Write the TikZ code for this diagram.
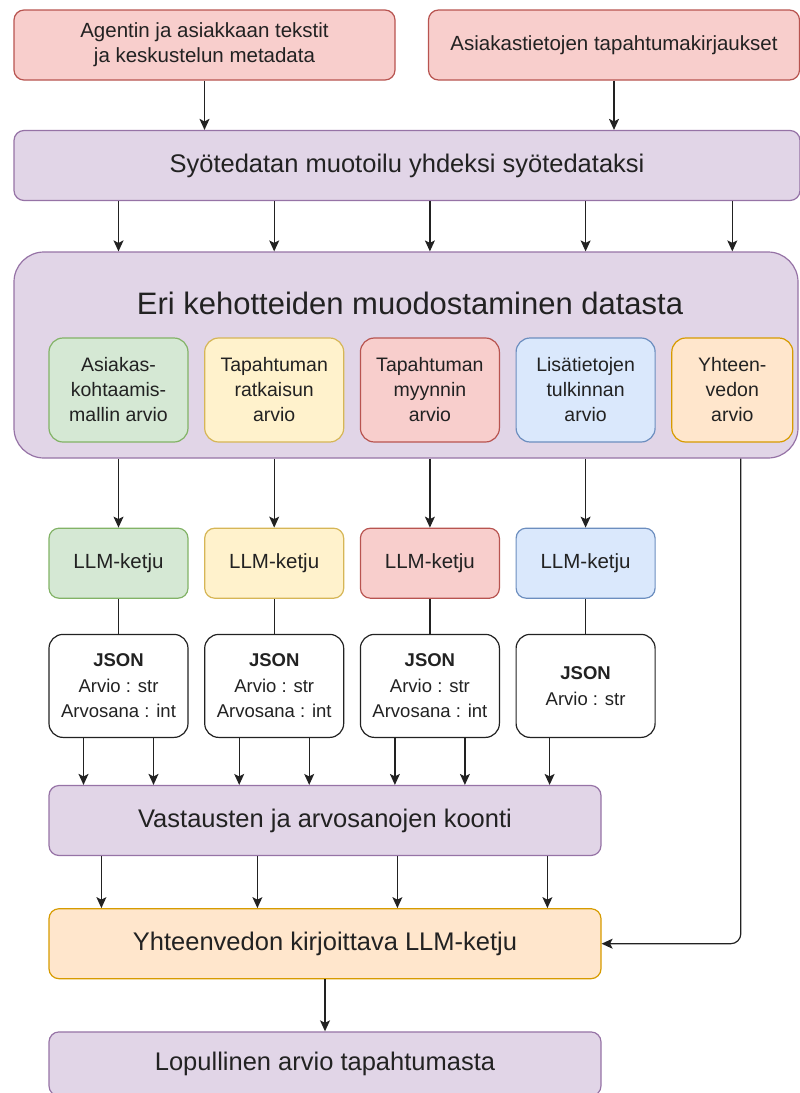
\documentclass[tikz,border=0pt]{standalone}
\usepackage{fontspec}
\setmainfont{Liberation Sans}
\usetikzlibrary{arrows.meta,calc,positioning}
\definecolor{RedFill}{HTML}{F8CECC}
\definecolor{RedLine}{HTML}{B85450}
\definecolor{LilaFill}{HTML}{E1D5E7}
\definecolor{LilaLine}{HTML}{9673A6}
\definecolor{GreenFill}{HTML}{D5E8D4}
\definecolor{GreenLine}{HTML}{82B366}
\definecolor{YellowFill}{HTML}{FFF2CC}
\definecolor{YellowLine}{HTML}{D6B656}
\definecolor{BlueFill}{HTML}{DAE8FC}
\definecolor{BlueLine}{HTML}{6C8EBF}
\definecolor{OrangeFill}{HTML}{FFE6CC}
\definecolor{OrangeLine}{HTML}{D79B00}
\definecolor{InkGray}{HTML}{222222}

\begin{document}
\begin{tikzpicture}[
      x=1pt, y=-1pt,
      node distance=35pt and 15.5pt,
      box/.style={
        rounded corners=10pt,
        draw,
        line width=1.2pt,
        minimum height=70pt,
        align=center,
        inner sep=0pt,
        text=InkGray
      },
      red/.style={fill=RedFill, draw=RedLine},
      lila/.style={fill=LilaFill, draw=LilaLine},
      green/.style={fill=GreenFill, draw=GreenLine},
      yellow/.style={fill=YellowFill, draw=YellowLine},
      blue/.style={fill=BlueFill, draw=BlueLine},
      orange/.style={fill=OrangeFill, draw=OrangeLine},
      wide/.style={box, minimum width=552pt, font=\fontsize{25.5}{30}\selectfont},
      prompt/.style={box, rounded corners=14pt, minimum width=139pt, minimum height=104pt,
        font=\fontsize{19.5}{25}\selectfont},
      chain/.style={box, minimum width=139pt, font=\fontsize{20.5}{25}\selectfont},
      json/.style={box, rounded corners=14pt, fill=white, draw=InkGray, minimum width=139pt,
        minimum height=103pt, font=\fontsize{18.5}{25.5}\selectfont},
      arrow/.style={-{Stealth[length=11pt,width=10pt,inset=2.5pt]}, line width=1.2pt, draw=InkGray},
      link/.style={line width=1.2pt, draw=InkGray}
    ]
    \useasboundingbox (0,0) rectangle (800,1093);

    % inputs
    \node[box, red, minimum width=381pt, font=\fontsize{20.5}{25}\selectfont] (agent) at (204.5,45)
      {Agentin ja asiakkaan tekstit\\ja keskustelun metadata};
    \node[box, red, minimum width=371pt, font=\fontsize{20.5}{25}\selectfont] (logs) at (614,45)
      {Asiakastietojen tapahtumakirjaukset};
    \node[box, lila, minimum width=786pt, font=\fontsize{25.5}{30}\selectfont] (fmt) at (407,165.5)
      {Syötedatan muotoilu yhdeksi syötedataksi};

    % prompt container
    \node[box, lila, rounded corners=30pt, minimum width=784pt, minimum height=206pt] (cont) at (406,355) {};
    \node[text=InkGray, font=\fontsize{31}{36}\selectfont] (title) at (410,303)
      {Eri kehotteiden muodostaminen datasta};
    \node[prompt, green] (p1) at (118.5,390) {Asiakas-\\kohtaamis-\\mallin arvio};
    \node[prompt, yellow, right=of p1] (p2) {Tapahtuman\\ratkaisun\\arvio};
    \node[prompt, red, right=of p2] (p3) {Tapahtuman\\myynnin\\arvio};
    \node[prompt, blue, right=of p3] (p4) {Lisätietojen\\tulkinnan\\arvio};
    \node[prompt, orange, right=of p4, minimum width=121pt] (p5) {Yhteen-\\vedon\\arvio};

    % chains and outputs
    \node[chain, green, below=85pt of p1] (l1) {LLM-ketju};
    \node[chain, yellow, below=85pt of p2] (l2) {LLM-ketju};
    \node[chain, red, below=85pt of p3] (l3) {LLM-ketju};
    \node[chain, blue, below=85pt of p4] (l4) {LLM-ketju};
    \foreach \i in {1,2,3}
      \node[json, below=of l\i] (j\i) {\textbf{JSON}\\Arvio : str\\Arvosana : int};
    \node[json, below=of l4] (j4) {\textbf{JSON}\\Arvio : str};

    % aggregation
    \node[wide, lila] (koonti) at (325,820.5) {Vastausten ja arvosanojen koonti};
    \node[wide, orange, below=52pt of koonti] (summ) {Yhteenvedon kirjoittava LLM-ketju};
    \node[wide, lila, below=52pt of summ, minimum height=64pt] (final) {Lopullinen arvio tapahtumasta};

    \draw[arrow] (agent) -- (agent |- fmt.north);
    \draw[arrow] (logs) -- (logs |- fmt.north);
    \foreach \p in {p1,p2,p3,p4,p5}
      \draw[arrow] (fmt.south -| \p) -- (cont.north -| \p);
    \foreach \i in {1,...,4} {
      \draw[arrow] (cont.south -| l\i) -- (l\i);
      \draw[link] (l\i) -- (j\i);
    }
    \foreach \i in {1,2,3} {
      \draw[arrow] ($(j\i.south)+(-35,0)$) -- ($(j\i.south |- koonti.north)+(-35,0)$);
      \draw[arrow] ($(j\i.south)+(35,0)$) -- ($(j\i.south |- koonti.north)+(35,0)$);
    }
    \draw[arrow] ($(j4.south)+(-36,0)$) -- ($(j4.south |- koonti.north)+(-36,0)$);
    \foreach \d in {53,209,349,499}
      \draw[arrow] ($(koonti.south west)+(\d,0)$) -- ($(summ.north west)+(\d,0)$);
    \draw[arrow, rounded corners=10pt] ($(p5.south |- cont.south)+(8.5,0)$) |- (summ.east);
    \draw[arrow] (summ) -- (final);
  \end{tikzpicture}
\end{document}
